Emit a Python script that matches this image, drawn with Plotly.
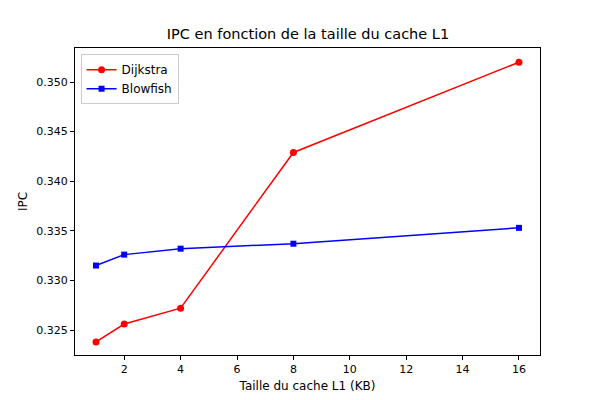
import plotly.graph_objects as go

sizes = [1, 2, 4, 8, 16]
dijkstra = [0.3238, 0.3256, 0.3272, 0.3429, 0.3520]
blowfish = [0.3315, 0.3326, 0.3332, 0.3337, 0.3353]

fig = go.Figure()
fig.add_trace(go.Scatter(x=sizes, y=dijkstra, mode="lines+markers", name="Dijkstra",
                         line=dict(color="red", width=1.5), marker=dict(symbol="circle", size=7, color="red")))
fig.add_trace(go.Scatter(x=sizes, y=blowfish, mode="lines+markers", name="Blowfish",
                         line=dict(color="blue", width=1.5), marker=dict(symbol="square", size=6, color="blue")))

ax = dict(showgrid=False, zeroline=False, showline=True, mirror=True, linecolor="black",
          ticks="outside", ticklen=4, tickcolor="black", tickfont=dict(size=11, color="black"))
fig.update_layout(
    width=600, height=400, plot_bgcolor="white", paper_bgcolor="white",
    font=dict(family="DejaVu Sans", color="black"),
    margin=dict(l=67, r=68, t=40, b=53),
    title=dict(text="IPC en fonction de la taille du cache L1", x=0.5, xanchor="center",
               y=1 - 26/400, yanchor="middle", font=dict(size=14.5)),
    xaxis=dict(ax, range=[0.255, 16.745], tickvals=[2, 4, 6, 8, 10, 12, 14, 16],
               title=dict(text="Taille du cache L1 (KB)", font=dict(size=12), standoff=6)),
    yaxis=dict(ax, range=[0.32248, 0.35343], tickvals=[0.325, 0.33, 0.335, 0.34, 0.345, 0.35],
               tickformat=".3f", title=dict(text="IPC", font=dict(size=12), standoff=6)),
    legend=dict(x=0.012, y=0.98, xanchor="left", yanchor="top", bordercolor="#cccccc",
                borderwidth=1, bgcolor="white", font=dict(size=12)),
)
fig.write_html("out.html")
